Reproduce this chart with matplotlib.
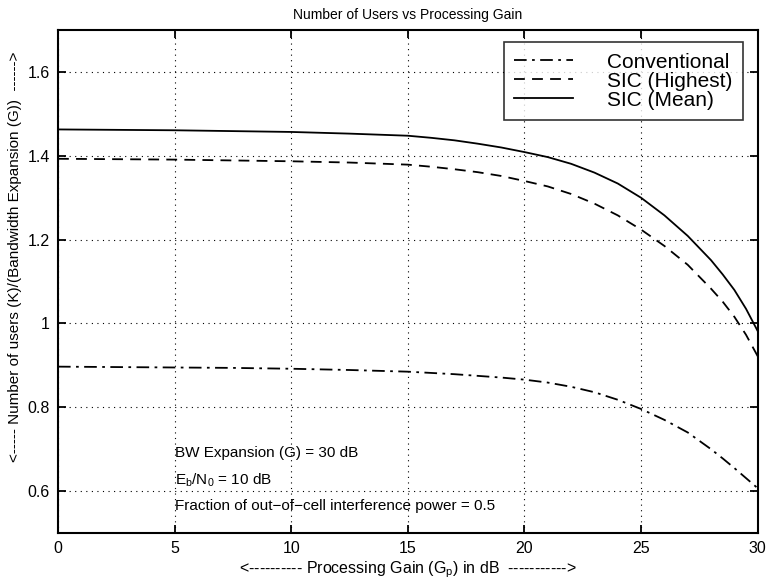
import matplotlib.pyplot as plt

plt.rcParams['font.family'] = ['Liberation Sans', 'DejaVu Sans']

# processing gain (dB) and normalised user capacity K/G for each receiver
gp = [0, 2.5, 5, 7.5, 10, 12.5, 15, 16, 17, 18, 19, 20, 21, 22, 23, 24, 25,
      26, 27, 28, 28.5, 29, 29.5, 30]
conventional = [0.897, 0.896, 0.895, 0.894, 0.892, 0.889, 0.885, 0.882, 0.879,
                0.875, 0.871, 0.866, 0.859, 0.849, 0.836, 0.818, 0.796, 0.770,
                0.740, 0.700, 0.678, 0.655, 0.631, 0.607]
sic_highest = [1.393, 1.392, 1.391, 1.389, 1.387, 1.384, 1.379, 1.374, 1.368,
               1.361, 1.352, 1.340, 1.327, 1.309, 1.286, 1.258, 1.224, 1.185,
               1.140, 1.083, 1.052, 1.016, 0.973, 0.922]
sic_mean = [1.463, 1.462, 1.461, 1.459, 1.457, 1.453, 1.448, 1.443, 1.437,
            1.429, 1.420, 1.409, 1.397, 1.381, 1.360, 1.334, 1.300, 1.258,
            1.209, 1.151, 1.117, 1.080, 1.035, 0.982]

xticks = [0, 5, 10, 15, 20, 25, 30]
yticks = [0.6, 0.8, 1.0, 1.2, 1.4, 1.6]
ytick_labels = ['0.6', '0.8', '1', '1.2', '1.4', '1.6']

fig = plt.figure(figsize=(7.7, 5.79), dpi=100)
ax = fig.add_axes([0.0753, 0.0794, 0.9087, 0.8686])

ax.plot(gp, conventional, color='k', lw=1.3, ls=(0, (7, 3, 1.5, 3)), label='Conventional')
ax.plot(gp, sic_highest, color='k', lw=1.3, ls=(0, (6, 4)), label='SIC (Highest)')
ax.plot(gp, sic_mean, color='k', lw=1.3, ls='-', label='SIC (Mean)')

ax.set_xlim(0, 30)
ax.set_ylim(0.5, 1.7)
ax.set_xticks(xticks)
ax.set_yticks(yticks)
ax.set_yticklabels(ytick_labels)
ax.tick_params(direction='in', length=6, width=1.3, top=True, right=True,
               labelsize=11.5, pad=6)
for s in ax.spines.values():
    s.set_linewidth(1.5)
ax.grid(True, color='k', ls=(0, (1, 4)), lw=0.8)

ax.set_title('Number of Users vs Processing Gain', fontsize=10, pad=8)
ax.set_xlabel(r'<---------- Processing Gain (G$_\mathregular{p}$) in dB  ----------->',
              fontsize=11.5, labelpad=2)
ax.set_ylabel('<----- Number of users (K)/(Bandwidth Expansion (G))  ------>',
              fontsize=11)
ax.yaxis.set_label_coords(-0.052, 0.55)

ax.text(5, 0.69, 'BW Expansion (G) = 30 dB', fontsize=11, va='center')
ax.text(5, 0.625, r'E$_\mathregular{b}$/N$_\mathregular{0}$ = 10 dB', fontsize=11, va='center')
ax.text(5, 0.565, 'Fraction of out\u2212of\u2212cell interference power = 0.5', fontsize=11, va='center')

leg = ax.legend(loc='upper right', fontsize=15, frameon=True, fancybox=False,
                edgecolor='k', handlelength=2.8, handletextpad=1.65,
                borderpad=0.5, labelspacing=0.0, borderaxespad=0,
                bbox_to_anchor=(0.9786, 0.976))
leg.get_frame().set_linewidth(1.2)

fig.savefig('out.png', dpi=100)
